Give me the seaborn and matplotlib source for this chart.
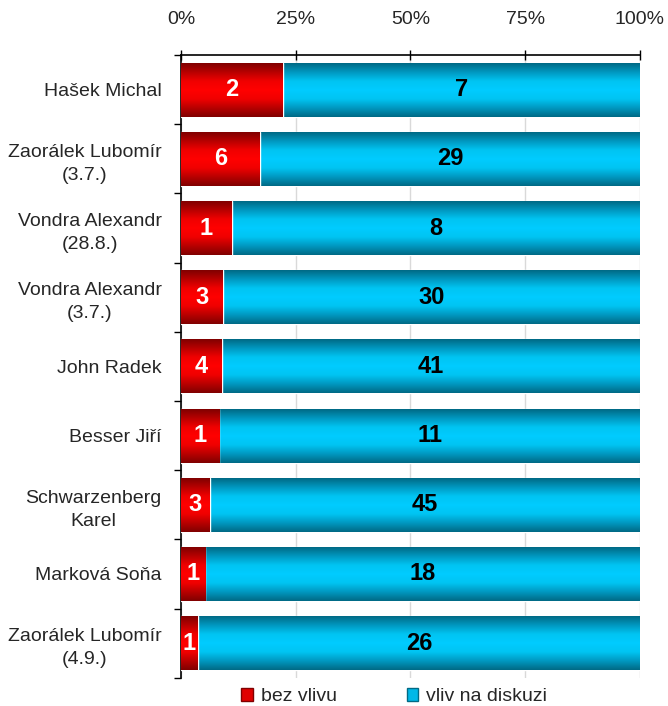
import numpy as np
import pandas as pd
import seaborn as sns
import matplotlib.pyplot as plt
from matplotlib.colors import LinearSegmentedColormap
from matplotlib.patches import Rectangle

# data, top to bottom
names = ["Hašek Michal", "Zaorálek Lubomír\n(3.7.)", "Vondra Alexandr\n(28.8.)",
         "Vondra Alexandr\n(3.7.)", "John Radek", "Besser Jiří",
         "Schwarzenberg\nKarel", "Marková Soňa", "Zaorálek Lubomír\n(4.9.)"]
bez_vlivu = [2, 6, 1, 3, 4, 1, 3, 1, 1]
vliv_na_diskuzi = [7, 29, 8, 30, 41, 11, 45, 18, 26]
series_names = ["bez vlivu", "vliv na diskuzi"]
xticks = [0, 25, 50, 75, 100]

df = pd.DataFrame({"name": names, "bez": bez_vlivu, "vliv": vliv_na_diskuzi})
df["total"] = df["bez"] + df["vliv"]
df["bez_pct"] = df["bez"] / df["total"] * 100
df["all_pct"] = 100.0

sns.set_style("white")
plt.rcParams["font.family"] = ["Liberation Sans", "DejaVu Sans"]

red_cmap = LinearSegmentedColormap.from_list(
    "red3d", ["#800000", "#b80000", "#f00000", "#ff0000", "#f00000", "#b80000", "#800000"])
blue_cmap = LinearSegmentedColormap.from_list(
    "blue3d", ["#006a85", "#0098c0", "#00c4f2", "#00ccff", "#00c4f2", "#0098c0", "#006a85"])

fig = plt.figure(figsize=(6.68, 7.06), dpi=100)
ax = fig.add_axes([0.271, 0.040, 0.687, 0.882])

sns.barplot(data=df, x="all_pct", y="name", color="#00b8e8", width=0.78,
            ax=ax, zorder=2, errorbar=None)
n_blue = len(ax.patches)
sns.barplot(data=df, x="bez_pct", y="name", color="#e00000", width=0.78,
            ax=ax, zorder=3, errorbar=None)

# 3d-ish shading on each bar
grad = np.linspace(0, 1, 200).reshape(-1, 1)
for k, p in enumerate(list(ax.patches)):
    x, y, w, h = p.get_x(), p.get_y(), p.get_width(), p.get_height()
    cmap = blue_cmap if k < n_blue else red_cmap
    ax.imshow(grad, cmap=cmap, aspect="auto", extent=[x, x + w, y + h, y],
              zorder=p.get_zorder() + 0.5, interpolation="bilinear")

# value labels
for i, row in df.iterrows():
    ax.text(row["bez_pct"] / 2, i, str(row["bez"]), ha="center", va="center",
            color="white", fontsize=17, fontweight="bold", zorder=6)
    ax.text(row["bez_pct"] + (100 - row["bez_pct"]) / 2, i, str(row["vliv"]),
            ha="center", va="center", color="black", fontsize=17,
            fontweight="bold", zorder=6)

ax.set_xlim(0, 100)
ax.set_ylim(len(names) - 0.5, -0.5)
ax.xaxis.tick_top()
ax.set_xticks(xticks)
ax.set_xticklabels([f"{t}%" for t in xticks])
ax.grid(axis="x", color="#d9d9d9", lw=1, zorder=0)
ax.grid(axis="y", visible=False)
ax.set_axisbelow(True)
ax.set_xlabel("")
ax.set_ylabel("")

for s in ["right", "bottom"]:
    ax.spines[s].set_visible(False)
for s in ["top", "left"]:
    ax.spines[s].set_color("black")
    ax.spines[s].set_linewidth(1.2)

ax.tick_params(axis="x", direction="inout", length=7, width=1, color="black",
               labelsize=14, pad=16, top=True, bottom=False)
ax.set_yticks(np.arange(-0.5, len(names), 1), minor=True)
ax.tick_params(axis="y", which="major", length=0, labelsize=14, pad=14)
ax.tick_params(axis="y", which="minor", direction="out", length=5, width=1,
               color="black", left=True)
for lab in ax.get_yticklabels():
    lab.set_multialignment("center")
    lab.set_linespacing(1.45)

handles = [Rectangle((0, 0), 1, 1, facecolor="#e00000", edgecolor="#800000"),
           Rectangle((0, 0), 1, 1, facecolor="#00b8e8", edgecolor="#006a85")]
fig.legend(handles, series_names, loc="center", bbox_to_anchor=(0.59, 0.013),
           ncol=2, frameon=False, fontsize=14, handlelength=0.6, handleheight=0.6,
           handletextpad=0.4, columnspacing=3.6)

fig.savefig("out.png", dpi=100)
